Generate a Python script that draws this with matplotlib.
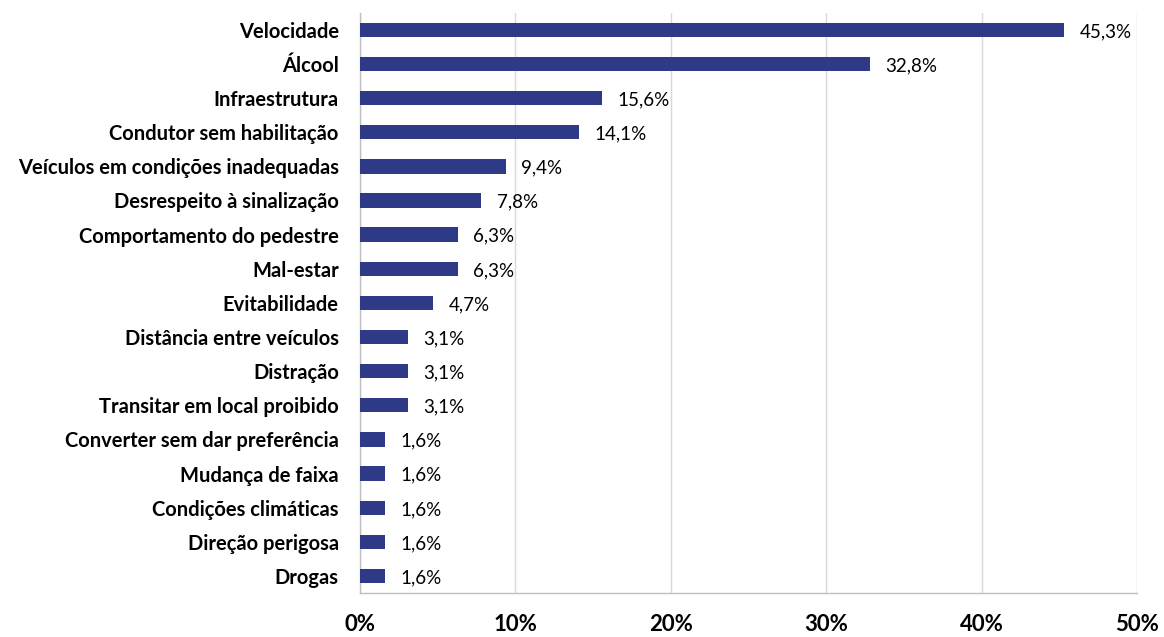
import matplotlib.pyplot as plt

categorias = ['Velocidade', 'Álcool', 'Infraestrutura', 'Condutor sem habilitação',
              'Veículos em condições inadequadas', 'Desrespeito à sinalização',
              'Comportamento do pedestre', 'Mal-estar', 'Evitabilidade',
              'Distância entre veículos', 'Distração', 'Transitar em local proibido',
              'Converter sem dar preferência', 'Mudança de faixa',
              'Condições climáticas', 'Direção perigosa', 'Drogas']
valores = [45.3, 32.8, 15.6, 14.1, 9.4, 7.8, 6.3, 6.3, 4.7, 3.1, 3.1, 3.1,
           1.6, 1.6, 1.6, 1.6, 1.6]
ticks = [0, 10, 20, 30, 40, 50]

fig = plt.figure(figsize=(11.64, 6.37), dpi=100)
ax = fig.add_axes([0.309, 0.069, 0.668, 0.911])

pos = list(range(len(categorias)))[::-1]
ax.barh(pos, valores, height=0.42, color='#2E3A87', zorder=3)

for y, v in zip(pos, valores):
    ax.text(v + 1.0, y - 0.05, f'{v:.1f}%'.replace('.', ','), va='center', ha='left',
            fontsize=13.5, family='Lato', color='black')

ax.set_xlim(0, 50)
ax.set_ylim(-0.5, len(categorias) - 0.5)
ax.set_xticks(ticks)
ax.set_xticklabels([f'{t}%' for t in ticks], fontsize=16, family='Lato',
                   fontweight='bold')
ax.set_yticks(pos)
ax.set_yticklabels(categorias, fontsize=14.5, family='Lato', fontweight='bold')
ax.tick_params(axis='x', length=0, pad=15)
ax.tick_params(axis='y', length=0, pad=15)

ax.grid(axis='x', color='#D9D9D9', linewidth=1, zorder=0)
for s in ['top', 'right']:
    ax.spines[s].set_visible(False)
for s in ['left', 'bottom']:
    ax.spines[s].set_color('#BFBFBF')
    ax.spines[s].set_linewidth(1)

fig.savefig('out.png', dpi=100)
